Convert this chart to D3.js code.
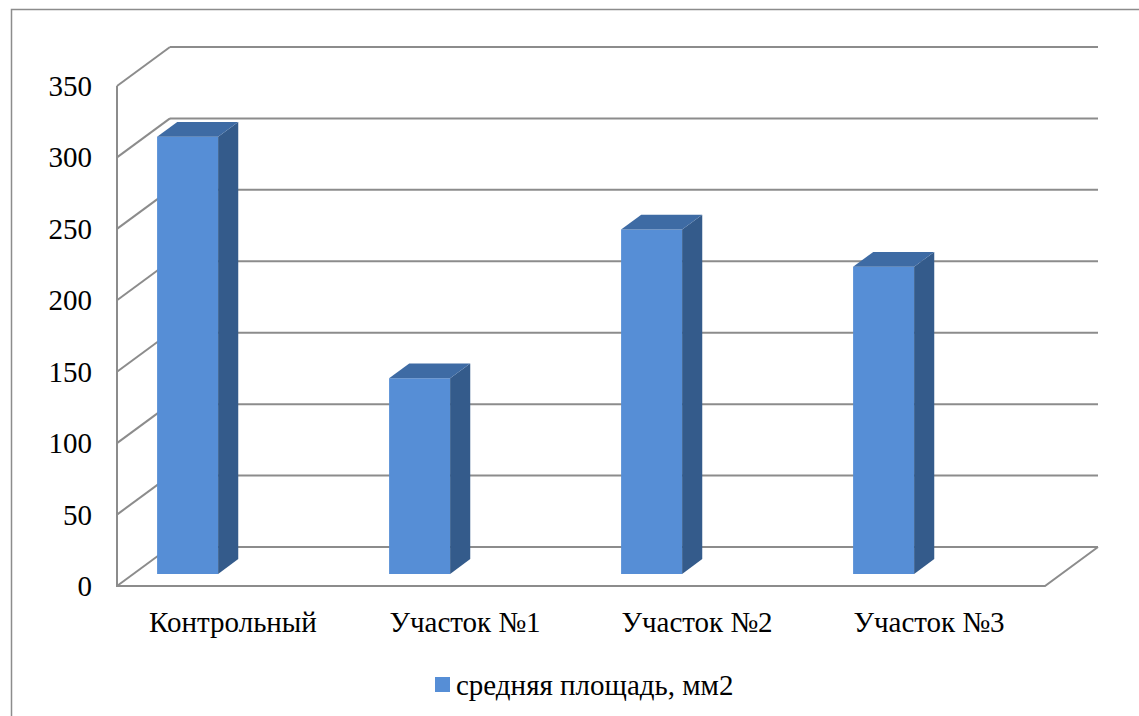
<!DOCTYPE html>
<html>
<head>
<meta charset="utf-8">
<script src="https://cdn.jsdelivr.net/npm/d3@7"></script>
</head>
<body style="margin:0">
<svg id="chart" width="1139" height="716" style="font-family: 'Liberation Serif'"></svg>
<script>

// data
var categories = ["Контрольный", "Участок №1", "Участок №2", "Участок №3"];
var values = [306, 137, 241, 215];
var yTicks = [0, 50, 100, 150, 200, 250, 300, 350];
var seriesName = "средняя площадь, мм2";

var width = 1139,
    height = 716;

var labelFont = "'Liberation Serif'";

// front plane of the 3d box
var x0 = 117, x1 = 1045, yBottom = 586, yTop = 86;
// depth offset of back wall
var depthX = 53, depthY = -39;

var x = d3.scaleBand().domain(categories).range([x0, x1]);
var y = d3.scaleLinear().domain([0, 350]).range([yBottom, yTop]);

// point in the oblique projection: depth 0 = front, 1 = back wall
function proj(px, v, depth) {
    return [px + depthX * depth, y(v) + depthY * depth];
}

var svg = d3.select("#chart");

// outer frame
svg.append("rect")
    .attr("x", 11.5)
    .attr("y", 9.5)
    .attr("width", width + 20)
    .attr("height", height + 20)
    .style("fill", "none")
    .style("stroke", "#8c8c8c")
    .style("stroke-width", 1.5);

var gridColor = "#8c8c8c";
var line = d3.line();

// back wall gridlines
svg.append("g")
    .selectAll(".grid")
    .data(yTicks)
    .enter()
    .append("path")
    .attr("d", function (d) { return line([proj(x0, d, 1), proj(x1, d, 1)]); })
    .style("fill", "none")
    .style("stroke", gridColor)
    .style("stroke-width", 2);

// side wall diagonals
svg.append("g")
    .selectAll(".diag")
    .data(yTicks)
    .enter()
    .append("path")
    .attr("d", function (d) { return line([proj(x0, d, 0), proj(x0, d, 1)]); })
    .style("fill", "none")
    .style("stroke", gridColor)
    .style("stroke-width", 2);

// left axis and floor
svg.append("path")
    .attr("d", line([proj(x0, 350, 0), proj(x0, 0, 0), proj(x1, 0, 0), proj(x1, 0, 1)]))
    .style("fill", "none")
    .style("stroke", gridColor)
    .style("stroke-width", 2);

// bars
var barStart = 0.102, barEnd = 0.365, dFront = 0.31, dBack = 0.69;

var bars = svg.append("g")
    .selectAll(".bar")
    .data(values)
    .enter()
    .append("g")
    .attr("class", "bar");

function barX(i, f) { return x(categories[i]) + x.bandwidth() * f; }

// front face
bars.append("path")
    .attr("d", function (d, i) {
        var a = barX(i, barStart), b = barX(i, barEnd);
        return line([proj(a, 0, dFront), proj(b, 0, dFront), proj(b, d, dFront), proj(a, d, dFront)]) + "Z";
    })
    .style("fill", "#568ed6");

// side face
bars.append("path")
    .attr("d", function (d, i) {
        var b = barX(i, barEnd);
        return line([proj(b, 0, dFront), proj(b, 0, dBack), proj(b, d, dBack), proj(b, d, dFront)]) + "Z";
    })
    .style("fill", "#345b8b");

// top face
bars.append("path")
    .attr("d", function (d, i) {
        var a = barX(i, barStart), b = barX(i, barEnd);
        return line([proj(a, d, dFront), proj(b, d, dFront), proj(b, d, dBack), proj(a, d, dBack)]) + "Z";
    })
    .style("fill", "#3e6ba4");

// y tick labels
svg.selectAll(".ylabel")
    .data(yTicks)
    .enter()
    .append("text")
    .attr("class", "ylabel")
    .attr("x", 92)
    .attr("y", function (d) { return y(d) + 10; })
    .attr("font-size", 29)
    .attr("text-anchor", "end")
    .style("font-family", labelFont)
    .text(function (d) { return d; });

// category labels
svg.selectAll(".xlabel")
    .data(categories)
    .enter()
    .append("text")
    .attr("class", "xlabel")
    .attr("x", function (d) { return x(d) + x.bandwidth() / 2; })
    .attr("y", 632)
    .attr("font-size", 29)
    .attr("text-anchor", "middle")
    .style("font-family", labelFont)
    .text(function (d) { return d; });

// legend
svg.append("rect")
    .attr("x", 435)
    .attr("y", 677)
    .attr("width", 15)
    .attr("height", 15)
    .style("fill", "#568ed6");

svg.append("text")
    .attr("x", 456)
    .attr("y", 695)
    .attr("font-size", 29)
    .style("font-family", labelFont)
    .text(seriesName);

</script>
</body>
</html>
